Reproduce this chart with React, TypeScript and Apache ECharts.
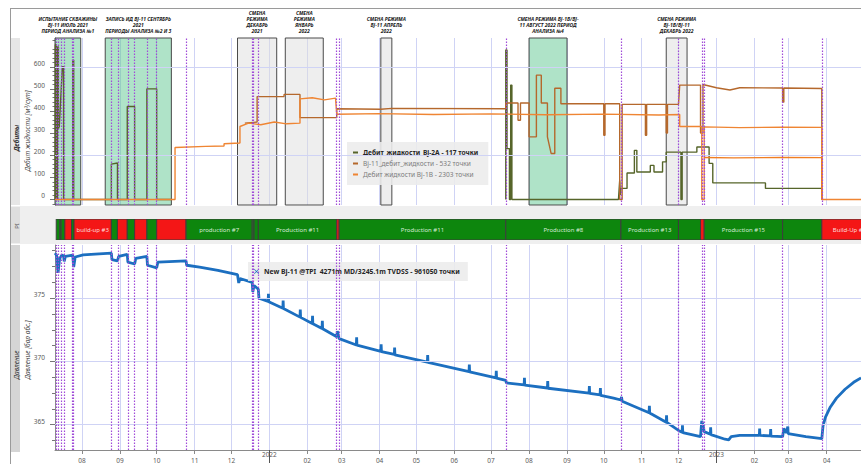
import React, { useEffect, useRef } from 'react';
import * as echarts from 'echarts';

const FONT = '"Noto Sans", "DejaVu Sans", sans-serif';
const ts = (s: string) => echarts.time.parse(s).getTime();

// ---- axes ----
const X_MIN = '2021-07-10';
const X_MAX = '2023-04-29';
const MONTH_TICKS = [
  '2021-08-01', '2021-09-01', '2021-10-01', '2021-11-01', '2021-12-01',
  '2022-01-01', '2022-02-01', '2022-03-01', '2022-04-01', '2022-05-01', '2022-06-01',
  '2022-07-01', '2022-08-01', '2022-09-01', '2022-10-01', '2022-11-01', '2022-12-01',
  '2023-01-01', '2023-02-01', '2023-03-01', '2023-04-01',
];
const YEAR_TICKS = ['2022-01-01', '2023-01-01'];
const RATE_TICKS = [0, 100, 200, 300, 400, 500, 600];
const RATE_GRID = [200, 600];
const PRESSURE_TICKS = [365, 370, 375];
const PRESSURE_MINOR = [363.75, 366.25, 367.5, 368.75, 371.25, 372.5, 373.75, 376.25, 377.5, 378.75];

// ---- events (dotted purple markers) ----
const EVENT_DATES = [
  '2021-07-11', '2021-07-13', '2021-07-15 12:00', '2021-07-17 12:00', '2021-07-24', '2021-07-25',
  '2021-08-25', '2021-08-31', '2021-09-08', '2021-09-13', '2021-09-23', '2021-10-01',
  '2021-10-25', '2021-12-18', '2021-12-19', '2021-12-23', '2022-02-25', '2022-02-27',
  '2022-07-13', '2022-10-15', '2022-12-01', '2022-12-20', '2022-12-22', '2023-02-24', '2023-03-28',
];

// ---- annotated periods ----
const BOX_FROM = ['2021-07-10', '2021-08-20', '2021-12-06', '2022-01-14', '2022-04-02', '2022-08-01', '2022-11-21'];
const BOX_TO = ['2021-07-31', '2021-10-13', '2022-01-07', '2022-02-14', '2022-04-11', '2022-09-01', '2022-12-08'];
const BOX_KIND = ['test', 'test', 'regime', 'regime', 'regime', 'test', 'regime'];
const BOX_TEXT = [
  'ИСПЫТАНИЕ СКВАЖИНЫ\nBJ-11 ИЮЛЬ 2021\nПЕРИОД АНАЛИЗА №1',
  'ЗАПИСЬ ИД BJ-11 СЕНТЯБРЬ\n2021\nПЕРИОДЫ АНАЛИЗА №2 И 3',
  'СМЕНА\nРЕЖИМА\nДЕКАБРЬ\n2021',
  'СМЕНА\nРЕЖИМА\nЯНВАРЬ\n2022',
  'СМЕНА РЕЖИМА\nBJ-11 АПРЕЛЬ\n2022',
  'СМЕНА РЕЖИМА BJ-1B/BJ-\n11 АВГУСТ 2022 ПЕРИОД\nАНАЛИЗА №4',
  'СМЕНА РЕЖИМА\nBJ-1B/BJ-11\nДЕКАБРЬ 2022',
];

// ---- PI periods: [start, end, kind (p = production, b = build-up), label] ----
const PI_SEGMENTS: [string, string, string, string][] = [
  ['2021-07-11', '2021-07-14', 'p', ''],
  ['2021-07-14', '2021-07-15', 'p', ''],
  ['2021-07-15', '2021-07-18', 'p', ''],
  ['2021-07-18', '2021-07-23 12:00', 'b', ''],
  ['2021-07-23 12:00', '2021-07-25 12:00', 'p', ''],
  ['2021-07-25 12:00', '2021-08-25', 'b', 'build-up #3'],
  ['2021-08-25', '2021-08-30', 'p', ''],
  ['2021-08-30', '2021-09-07', 'b', ''],
  ['2021-09-07', '2021-09-13', 'p', ''],
  ['2021-09-13', '2021-09-23', 'b', ''],
  ['2021-09-23', '2021-10-01', 'p', ''],
  ['2021-10-01', '2021-10-25', 'b', ''],
  ['2021-10-25', '2021-12-18', 'p', 'production #7'],
  ['2021-12-18', '2021-12-19 12:00', 'p', ''],
  ['2021-12-19 12:00', '2021-12-23', 'p', ''],
  ['2021-12-23', '2022-02-25', 'p', 'Production #11'],
  ['2022-02-25', '2022-02-27', 'b', ''],
  ['2022-02-27', '2022-07-13', 'p', 'Production #11'],
  ['2022-07-13', '2022-10-15', 'p', 'Production #8'],
  ['2022-10-15', '2022-12-01', 'p', 'Production #13'],
  ['2022-12-01', '2022-12-19', 'p', ''],
  ['2022-12-19', '2022-12-22', 'b', ''],
  ['2022-12-22', '2023-02-24', 'p', 'Production #15'],
  ['2023-02-24', '2023-03-28', 'p', ''],
  ['2023-03-28', '2023-05-15', 'b', 'Build-Up #16'],
];

// ---- liquid rates, m3/day ----
const NAME_2A = 'Дебит_жидкости_Bj-2A - 117 точки';
const NAME_11 = 'Bj-11_дебит_жидкости - 532 точки';
const NAME_1B = 'Дебит жидкости Bj-1B - 2303 точки';
const NAME_1B_2 = 'Дебит жидкости Bj-1B (после 22.12.2022)';
const NAME_P = 'New Bj-11 @TPI  4271m MD/3245.1m TVDSS - 961050 точки';

const RATE_2A: [string, number | null][] = [
  ['2021-07-10 00:00', 0], ['2021-07-10 06:00', 0], ['2021-07-10 06:00', 700], ['2021-07-11 00:00', 700],
  ['2021-07-11 00:00', 0], ['2021-07-12 00:00', 0], ['2021-07-12 00:00', 690], ['2021-07-12 18:00', 690],
  ['2021-07-12 18:00', 320], ['2021-07-13 12:00', 330], ['2021-07-16 00:00', 600], ['2021-07-17 00:00', 600],
  ['2021-07-17 00:00', 0], ['2021-07-24 12:00', 0], ['2021-07-24 12:00', 630], ['2021-07-25 06:00', 630],
  ['2021-07-25 06:00', 0], ['2021-08-25', 0], ['2021-08-25', 160], ['2021-08-30', 165], ['2021-08-30', 0],
  ['2021-09-07', 0], ['2021-09-07', 420], ['2021-09-13', 420], ['2021-09-13', 0],
  ['2021-09-23', 0], ['2021-09-23', 500], ['2021-10-01', 500], ['2021-10-01', 0], ['2021-10-13', 0],
  ['2021-10-14', null],
  ['2022-07-13', 0], ['2022-07-13', 676], ['2022-07-14', 676], ['2022-07-14', 230], ['2022-07-16', 230],
  ['2022-07-16', 0], ['2022-07-17', 0], ['2022-07-17', 517], ['2022-07-18', 517], ['2022-07-18', 0],
  ['2022-10-13', 0], ['2022-10-14', 86], ['2022-10-14 12:00', 20], ['2022-10-15', 50], ['2022-10-20', 50],
  ['2022-10-20', 120], ['2022-10-26', 120], ['2022-10-26', 222], ['2022-10-28', 222], ['2022-10-28', 124],
  ['2022-11-08', 124], ['2022-11-08', 154], ['2022-11-11', 154], ['2022-11-11', 124], ['2022-11-18', 124],
  ['2022-11-18', 170], ['2022-11-21', 170], ['2022-11-21', 214], ['2022-12-03', 214], ['2022-12-03', 0],
  ['2022-12-04', 0], ['2022-12-04', 214], ['2022-12-16', 214], ['2022-12-16', 237], ['2022-12-26', 237],
  ['2022-12-26', 163], ['2022-12-29', 163], ['2022-12-29', 75], ['2023-02-10', 75], ['2023-02-10', 50],
  ['2023-03-28', 50], ['2023-03-28', 0],
];

const RATE_11: [string, number][] = [
  ['2021-12-12', 345], ['2021-12-22', 350], ['2021-12-22', 465], ['2022-01-13', 465], ['2022-01-13', 475],
  ['2022-01-26', 475], ['2022-01-26', 370], ['2022-02-25', 370], ['2022-02-25', 410], ['2022-04-02', 408],
  ['2022-04-11', 412], ['2022-07-13', 410], ['2022-07-13', 436], ['2022-07-23', 436], ['2022-07-23', 358],
  ['2022-07-25', 358], ['2022-07-25', 436], ['2022-08-01', 436], ['2022-08-01', 283], ['2022-08-07', 283],
  ['2022-08-07', 562], ['2022-08-11', 562], ['2022-08-11', 436], ['2022-08-16', 436], ['2022-08-16', 283],
  ['2022-08-19', 208], ['2022-08-22', 208], ['2022-08-22', 503], ['2022-08-27', 503], ['2022-08-27', 433],
  ['2022-10-01', 433], ['2022-10-01', 290], ['2022-10-02', 290], ['2022-10-02', 433], ['2022-10-14', 433],
  ['2022-10-14', 0], ['2022-10-16', 0], ['2022-10-16', 430], ['2022-11-04', 430], ['2022-11-04', 290],
  ['2022-11-05', 290], ['2022-11-05', 430], ['2022-11-21', 430], ['2022-11-21', 300], ['2022-11-22', 300],
  ['2022-11-22', 430], ['2022-12-01', 430], ['2022-12-02', 517], ['2022-12-19', 517], ['2022-12-19', 300],
  ['2022-12-21', 300], ['2022-12-21', 520], ['2023-01-01', 505], ['2023-01-12', 495], ['2023-01-20', 505],
  ['2023-02-24', 504], ['2023-02-24', 440], ['2023-02-25', 440], ['2023-02-25', 504], ['2023-03-28', 502],
  ['2023-03-28', 0],
];

const RATE_1B: [string, number][] = [
  ['2021-07-10', 0], ['2021-10-16', 0], ['2021-10-16', 235], ['2021-11-10', 240], ['2021-11-25', 242],
  ['2021-11-25', 252], ['2021-12-08', 255], ['2021-12-08', 330], ['2021-12-15', 345], ['2021-12-25', 338],
  ['2022-01-05', 350], ['2022-01-15', 342], ['2022-01-26', 345], ['2022-01-26', 455], ['2022-02-05', 460],
  ['2022-02-15', 450], ['2022-02-24', 458], ['2022-02-25', 385], ['2022-04-01', 388], ['2022-05-15', 384],
  ['2022-07-01', 387], ['2022-08-15', 383], ['2022-10-01', 386], ['2022-11-15', 382], ['2022-12-02', 384],
  ['2022-12-02', 330], ['2022-12-20', 330], ['2022-12-20', 0], ['2022-12-22', 0], ['2022-12-22', 328],
  ['2023-01-20', 325], ['2023-02-24', 327], ['2023-03-28', 326], ['2023-03-28', 0], ['2023-04-29', 0],
];

const RATE_1B_2: [string, number][] = [
  ['2022-12-22', 190], ['2023-01-15', 188], ['2023-02-24', 190], ['2023-03-28', 189], ['2023-03-28', 0],
];

// ---- bottom-hole pressure, bar abs. ----
const PRESSURE_TPI: [string, number][] = [
  ['2021-07-10 00:00', 378.55], ['2021-07-11 06:00', 378.4], ['2021-07-12 12:00', 377.0], ['2021-07-13 18:00', 378.1],
  ['2021-07-15 12:00', 378.4], ['2021-07-17 00:00', 378.35], ['2021-07-17 12:00', 377.9], ['2021-07-18 12:00', 378.3],
  ['2021-07-24 12:00', 378.4], ['2021-07-25 06:00', 377.45], ['2021-07-26 12:00', 378.25], ['2021-08-02', 378.42],
  ['2021-08-15', 378.5], ['2021-08-25', 378.55], ['2021-08-25 12:00', 378.05], ['2021-08-30', 377.95],
  ['2021-08-31', 378.3], ['2021-09-07', 378.45], ['2021-09-07 12:00', 377.85], ['2021-09-13', 377.7],
  ['2021-09-14', 378.15], ['2021-09-23', 378.3], ['2021-09-23 12:00', 377.6], ['2021-10-01', 377.4],
  ['2021-10-02', 377.85], ['2021-10-25', 377.95], ['2021-10-25 12:00', 377.6], ['2021-11-05', 377.45],
  ['2021-11-20', 377.2], ['2021-12-06', 376.85], ['2021-12-07', 376.2], ['2021-12-08', 376.55],
  ['2021-12-18', 376.25], ['2021-12-18 12:00', 375.5], ['2021-12-19 12:00', 376.0], ['2021-12-23', 375.7],
  ['2021-12-23 12:00', 375.0], ['2021-12-31', 374.75], ['2021-12-31 06:00', 375.35], ['2021-12-31 12:00', 374.72],
  ['2022-01-12', 374.2], ['2022-01-12 06:00', 374.8], ['2022-01-12 12:00', 374.18], ['2022-01-26', 373.5],
  ['2022-01-26 06:00', 374.1], ['2022-01-26 12:00', 373.48], ['2022-02-05', 373.0], ['2022-02-05 06:00', 373.6],
  ['2022-02-05 12:00', 372.98], ['2022-02-13', 372.6], ['2022-02-13 06:00', 373.2], ['2022-02-13 12:00', 372.58],
  ['2022-02-25', 371.95], ['2022-02-25 12:00', 372.4], ['2022-02-27', 371.8], ['2022-03-13', 371.3],
  ['2022-03-13 06:00', 371.9], ['2022-03-13 12:00', 371.28], ['2022-04-02', 370.8], ['2022-04-02 06:00', 371.35],
  ['2022-04-02 12:00', 370.78], ['2022-04-13', 370.55], ['2022-04-13 06:00', 371.1], ['2022-04-13 12:00', 370.52],
  ['2022-05-10', 369.95], ['2022-05-10 06:00', 370.5], ['2022-05-10 12:00', 369.93], ['2022-06-13', 369.2],
  ['2022-06-13 06:00', 369.75], ['2022-06-13 12:00', 369.18], ['2022-07-05', 368.7], ['2022-07-05 06:00', 369.25],
  ['2022-07-05 12:00', 368.68], ['2022-07-13', 368.5], ['2022-07-13 12:00', 368.3], ['2022-07-28', 368.15],
  ['2022-07-28 06:00', 368.7], ['2022-07-28 12:00', 368.12], ['2022-08-16', 367.9], ['2022-08-16 06:00', 368.45],
  ['2022-08-16 12:00', 367.88], ['2022-09-19', 367.5], ['2022-09-19 06:00', 368.05], ['2022-09-19 12:00', 367.48],
  ['2022-09-28', 367.35], ['2022-09-28 06:00', 367.9], ['2022-09-28 12:00', 367.32], ['2022-10-09', 367.1],
  ['2022-10-15', 366.95], ['2022-10-15 12:00', 367.2], ['2022-10-16', 366.85], ['2022-11-07', 365.95],
  ['2022-11-07 06:00', 366.5], ['2022-11-07 12:00', 365.92], ['2022-11-21', 365.2], ['2022-11-21 06:00', 365.75],
  ['2022-11-21 12:00', 365.18], ['2022-12-01', 364.55], ['2022-12-04', 364.4], ['2022-12-04 06:00', 364.95],
  ['2022-12-04 12:00', 364.38], ['2022-12-19', 364.05], ['2022-12-20', 365.3], ['2022-12-21', 365.0],
  ['2022-12-22', 364.45], ['2022-12-27', 364.25], ['2022-12-27 06:00', 364.8], ['2022-12-27 12:00', 364.22],
  ['2023-01-08', 363.85], ['2023-01-11', 363.8], ['2023-01-13', 364.05], ['2023-01-20', 364.15],
  ['2023-02-05', 364.15], ['2023-02-05 06:00', 364.7], ['2023-02-05 12:00', 364.15], ['2023-02-14', 364.12],
  ['2023-02-14 06:00', 364.65], ['2023-02-14 12:00', 364.1], ['2023-02-24', 364.05], ['2023-02-25', 364.7],
  ['2023-02-27', 364.35], ['2023-02-28 06:00', 364.85], ['2023-02-28 12:00', 364.3], ['2023-03-15', 364.05],
  ['2023-03-28', 363.9], ['2023-03-29', 364.9], ['2023-03-31', 365.6], ['2023-04-04', 366.4],
  ['2023-04-09', 367.1], ['2023-04-16', 367.8], ['2023-04-23', 368.35], ['2023-04-29', 368.7],
];

const COLOR_2A = '#56652a';
const COLOR_11 = '#b5682c';
const COLOR_1B = '#ef8533';
const COLOR_1B_2 = '#f07d22';
const COLOR_P = '#1c6fc0';
const MONTH_LINE = '#cfd3f5';
const EVENT_LINE = '#a04bd8';
const AXIS_TEXT = '#5a5a5a';

function monthLabel(v: number) {
  const d = new Date(v);
  return String(d.getMonth() + 1).padStart(2, '0');
}

function buildOption() {
  const monthTs = MONTH_TICKS.map(ts);
  const monthLabelTs = MONTH_TICKS.filter((d) => !d.endsWith('-01-01')).map(ts);
  const yearTs = YEAR_TICKS.map(ts);
  const rateMinor: number[] = [];
  for (let v = -20; v <= 720; v += 20) if (v % 100 !== 0) rateMinor.push(v);

  // time runs along a plain value axis holding millisecond timestamps
  const xBase = { type: 'value', min: ts(X_MIN), max: ts(X_MAX), scale: true };
  const eventLines = EVENT_DATES.map((d) => ({ xAxis: ts(d) }));
  const eventMarkLine = {
    silent: true,
    symbol: ['none', 'none'],
    label: { show: false },
    lineStyle: { color: EVENT_LINE, type: [1.5, 1.5], width: 1.2 },
    data: eventLines,
  };

  const boxes = BOX_FROM.map((from, i) => [
    {
      xAxis: ts(from),
      itemStyle: {
        color: BOX_KIND[i] === 'test' ? 'rgba(96,200,146,0.5)' : 'rgba(222,222,222,0.5)',
        borderColor: '#4a4a4a',
        borderWidth: 1,
      },
      label: { formatter: BOX_TEXT[i] },
    },
    { xAxis: ts(BOX_TO[i]) },
  ]);

  const lineSeries = (name: string, data: any[], color: string) => ({
    type: 'line',
    name,
    xAxisIndex: 0,
    yAxisIndex: 0,
    data: data.map(([d, v]) => [ts(d), v]),
    showSymbol: false,
    symbol: 'none',
    connectNulls: false,
    lineStyle: { color, width: 1.4 },
    itemStyle: { color },
    z: 3,
  });

  return {
    animation: false,
    textStyle: { fontFamily: FONT },
    grid: [
      { left: 55, right: 0, top: 38, height: 167 },
      { left: 55, right: 0, top: 219, height: 21 },
      { left: 55, right: 0, top: 245, height: 207 },
    ],
    xAxis: [
      {
        ...xBase, gridIndex: 0,
        axisLine: { show: false }, axisLabel: { show: false },
        axisTick: { show: false, customValues: monthTs },
        splitLine: { show: true, lineStyle: { color: MONTH_LINE, width: 1 } },
      },
      {
        ...xBase, gridIndex: 1,
        axisLine: { show: false }, axisLabel: { show: false }, axisTick: { show: false }, splitLine: { show: false },
      },
      {
        ...xBase, gridIndex: 2, position: 'bottom',
        axisLine: { show: true, onZero: false, lineStyle: { color: '#8a8a8a' } },
        axisTick: { show: true, customValues: monthTs, length: 4, lineStyle: { color: '#8a8a8a' } },
        axisLabel: {
          show: true, customValues: monthLabelTs, formatter: (v: number) => monthLabel(v),
          color: AXIS_TEXT, fontSize: 6.5, margin: 7, fontFamily: FONT,
        },
        splitLine: { show: true, lineStyle: { color: MONTH_LINE, width: 1 } },
      },
      {
        ...xBase, gridIndex: 2, position: 'bottom',
        axisLine: { show: false, onZero: false },
        axisTick: { show: true, customValues: yearTs, length: 13, lineStyle: { color: '#555' } },
        axisLabel: {
          show: true, customValues: yearTs, formatter: (v: number) => String(new Date(v).getFullYear()),
          color: AXIS_TEXT, fontSize: 6.5, margin: 1, fontFamily: FONT,
        },
        splitLine: { show: false },
      },
    ],
    yAxis: [
      {
        type: 'value', gridIndex: 0, position: 'left', min: -25, max: 730,
        axisLine: { show: true, lineStyle: { color: '#8a8a8a' } },
        axisTick: { show: true, customValues: RATE_TICKS, length: 5, lineStyle: { color: '#777' } },
        axisLabel: {
          show: true, customValues: RATE_TICKS, color: AXIS_TEXT, fontSize: 6.5, margin: 10,
          verticalAlign: 'bottom', fontFamily: FONT,
        },
        splitLine: { show: false },
      },
      {
        type: 'value', gridIndex: 0, position: 'left', min: -25, max: 730,
        axisLine: { show: false }, axisLabel: { show: false }, splitLine: { show: false },
        axisTick: { show: true, customValues: rateMinor, length: 2.5, lineStyle: { color: '#777' } },
      },
      {
        type: 'value', gridIndex: 1, min: 0, max: 1, show: false,
      },
      {
        type: 'value', gridIndex: 2, position: 'left', min: 363, max: 379.2,
        axisLine: { show: true, lineStyle: { color: '#8a8a8a' } },
        axisTick: { show: true, customValues: PRESSURE_TICKS, length: 5, lineStyle: { color: '#777' } },
        axisLabel: {
          show: true, customValues: PRESSURE_TICKS, color: AXIS_TEXT, fontSize: 6.5, margin: 10,
          verticalAlign: 'bottom', fontFamily: FONT,
        },
        splitLine: { show: false },
      },
      {
        type: 'value', gridIndex: 2, position: 'left', min: 363, max: 379.2,
        axisLine: { show: false }, axisLabel: { show: false }, splitLine: { show: false },
        axisTick: { show: true, customValues: PRESSURE_MINOR, length: 3, lineStyle: { color: '#777' } },
      },
    ],
    legend: [
      {
        data: [NAME_2A, NAME_11, NAME_1B],
        left: 347, top: 142, orient: 'vertical', itemGap: 4,
        itemWidth: 5, itemHeight: 2, icon: 'rect', selectedMode: false,
        backgroundColor: 'rgba(236,236,236,0.88)', padding: [7, 10, 7, 6],
        formatter: (name: string) => (name === NAME_2A ? `{b|${name}}` : `{n|${name}}`),
        textStyle: {
          fontSize: 6.5, fontFamily: FONT,
          rich: {
            b: { fontWeight: 'bold', color: '#262626', fontSize: 6.6, fontFamily: FONT },
            n: { color: '#7d7d7d', fontSize: 6.6, fontFamily: FONT },
          },
        },
      },
      {
        data: [NAME_P],
        left: 248, top: 262, orient: 'horizontal',
        itemWidth: 5, itemHeight: 5, itemGap: 4, selectedMode: false,
        icon: 'path://M1,0 L5,4 L9,0 L10,1 L6,5 L10,9 L9,10 L5,6 L1,10 L0,9 L4,5 L0,1 Z',
        backgroundColor: 'rgba(236,236,236,0.88)', padding: [6, 8, 6, 6],
        textStyle: { fontSize: 6.8, fontWeight: 'bold', color: '#262626', fontFamily: FONT },
      },
    ],
    graphic: [
      { type: 'rect', z: -10, shape: { x: 11, y: 206, width: 850, height: 38 }, style: { fill: '#efefef' } },
      { type: 'rect', z: -9, shape: { x: 11, y: 38, width: 9, height: 167 }, style: { fill: '#e6e6e6' } },
      { type: 'rect', z: -9, shape: { x: 11, y: 207, width: 9, height: 36 }, style: { fill: '#dedede' } },
      { type: 'rect', z: -9, shape: { x: 11, y: 245, width: 9, height: 207 }, style: { fill: '#d5d5d5' } },
      { type: 'line', z: -8, shape: { x1: 10, y1: 8.5, x2: 861, y2: 8.5 }, style: { stroke: '#9a9a9a', lineWidth: 1 } },
      { type: 'line', z: -8, shape: { x1: 10.5, y1: 8, x2: 10.5, y2: 464 }, style: { stroke: '#9a9a9a', lineWidth: 1 } },
      {
        type: 'text', x: 16, y: 138, rotation: Math.PI / 2,
        style: { text: 'Дебиты', fontSize: 6.5, fontWeight: 'bold', fontStyle: 'italic', fill: '#333', align: 'center', verticalAlign: 'middle', fontFamily: FONT },
      },
      {
        type: 'text', x: 27, y: 131, rotation: Math.PI / 2,
        style: { text: 'Дебит жидкости [м³/сут]', fontSize: 6.5, fontStyle: 'italic', fill: '#444', align: 'center', verticalAlign: 'middle', fontFamily: FONT },
      },
      {
        type: 'text', x: 17, y: 226, rotation: Math.PI / 2,
        style: { text: 'PI', fontSize: 6, fill: '#555', align: 'center', verticalAlign: 'middle', fontFamily: FONT },
      },
      {
        type: 'text', x: 16, y: 365, rotation: Math.PI / 2,
        style: { text: 'Давление', fontSize: 6.5, fontStyle: 'italic', fill: '#333', align: 'center', verticalAlign: 'middle', fontFamily: FONT },
      },
      {
        type: 'text', x: 27, y: 350, rotation: Math.PI / 2,
        style: { text: 'Давление [бар абс.]', fontSize: 6.5, fontStyle: 'italic', fill: '#444', align: 'center', verticalAlign: 'middle', fontFamily: FONT },
      },
    ],
    series: [
      // horizontal grid lines, under everything
      {
        type: 'line', xAxisIndex: 0, yAxisIndex: 0, data: [], z: 1, silent: true,
        markLine: {
          silent: true, symbol: ['none', 'none'], label: { show: false },
          lineStyle: { color: MONTH_LINE, type: 'solid', width: 1 },
          data: RATE_GRID.map((v) => ({ yAxis: v })),
        },
      },
      lineSeries(NAME_2A, RATE_2A, COLOR_2A),
      lineSeries(NAME_11, RATE_11, COLOR_11),
      lineSeries(NAME_1B, RATE_1B, COLOR_1B),
      lineSeries(NAME_1B_2, RATE_1B_2, COLOR_1B_2),
      // annotated periods and events on top of the rate curves
      {
        type: 'line', xAxisIndex: 0, yAxisIndex: 0, data: [], z: 6, silent: true,
        markArea: {
          silent: true,
          label: {
            show: true, position: 'top', distance: 3, color: '#1a1a1a', fontSize: 5,
            fontStyle: 'italic', fontWeight: 'bold', lineHeight: 6.2, align: 'center', fontFamily: FONT,
          },
          data: boxes,
        },
        markLine: eventMarkLine,
      },
      // PI band
      {
        type: 'custom', xAxisIndex: 1, yAxisIndex: 2, clip: true, silent: true,
        data: PI_SEGMENTS.map((s) => [ts(s[0]), ts(s[1]), 0.5]),
        encode: { x: [0, 1], y: 2 },
        renderItem: (params: any, api: any) => {
          const seg = PI_SEGMENTS[params.dataIndex];
          const x0 = api.coord([api.value(0), 0.5])[0];
          const x1 = api.coord([api.value(1), 0.5])[0];
          const cs = params.coordSys;
          const build = seg[2] === 'b';
          const children: any[] = [
            {
              type: 'rect',
              shape: { x: x0, y: cs.y, width: x1 - x0, height: cs.height },
              style: { fill: build ? '#f41616' : '#0d860d', stroke: '#3d3d3d', lineWidth: 1 },
            },
          ];
          if (seg[3]) {
            children.push({
              type: 'text',
              style: {
                text: seg[3], x: (x0 + x1) / 2, y: cs.y + cs.height / 2, align: 'center', verticalAlign: 'middle',
                fill: build ? '#ffdede' : '#d6ecd6', fontSize: 6, fontFamily: FONT,
              },
            });
          }
          return { type: 'group', children };
        },
      },
      // pressure
      {
        type: 'line', xAxisIndex: 2, yAxisIndex: 4, z: 1, data: [], silent: true,
        markLine: {
          silent: true, symbol: ['none', 'none'], label: { show: false },
          lineStyle: { color: MONTH_LINE, type: 'solid', width: 1 },
          data: PRESSURE_TICKS.map((v) => ({ yAxis: v })),
        },
      },
      {
        type: 'line', name: NAME_P, xAxisIndex: 2, yAxisIndex: 3, z: 3,
        data: PRESSURE_TPI.map(([d, v]) => [ts(d), v]),
        showSymbol: false, symbol: 'none',
        lineStyle: { color: COLOR_P, width: 2.8 },
        itemStyle: { color: COLOR_P },
      },
      {
        type: 'line', xAxisIndex: 2, yAxisIndex: 3, data: [], z: 6, silent: true,
        markLine: eventMarkLine,
      },
    ],
  };
}

export default function App() {
  const ref = useRef<HTMLDivElement>(null);
  useEffect(() => {
    document.body.style.margin = '0';
    const chart = echarts.init(ref.current as HTMLDivElement, null, { renderer: 'svg' });
    chart.setOption(buildOption() as any);
    return () => chart.dispose();
  }, []);
  return <div ref={ref} style={{ width: 861, height: 464, overflow: 'hidden' }} />;
}
